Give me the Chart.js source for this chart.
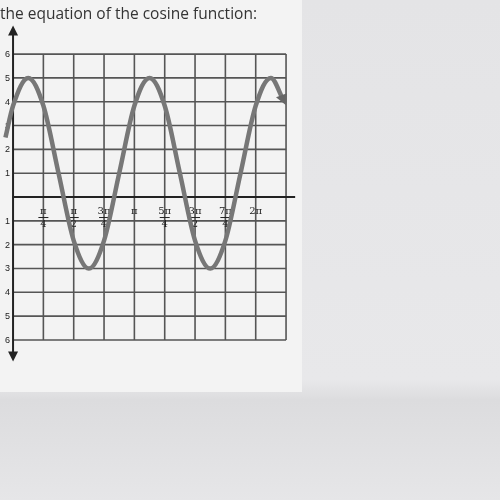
<!DOCTYPE html>
<html><head><script src="https://cdn.jsdelivr.net/npm/chart.js@4"></script>
<style>
body{margin:0;width:500px;height:500px;background:linear-gradient(#e4e4e6 0,#e8e8ea 380px,#dcdcde 400px,#e6e6e8 500px);overflow:hidden;position:relative;font-family:"Open Sans",sans-serif}
#paper{position:absolute;left:0;top:0;width:302px;height:392px;background:#f3f3f3}
#title{position:absolute;left:0;top:2px;font-size:15.5px;color:#333;white-space:nowrap}
#wrap{position:absolute;left:0;top:0;width:300px;height:390px}
</style></head><body>
<div id="paper"></div>
<div id="wrap"><canvas id="c"></canvas></div>
<div id="title">the equation of the cosine function:</div>
<script>
const xQuarterPi=[-0.25,0,0.5,1,1.5,2,2.5,3,3.5,4,4.5,5,5.5,6,6.5,7,7.5,8,8.5,8.9];
const yVals=[2.5,3.83,5,3.83,1,-1.83,-3,-1.83,1,3.83,5,3.83,1,-1.83,-3,-1.83,1,3.83,5,4.1];
const xLabels=[["π","4"],["π","2"],["3π","4"],["π",""],["5π","4"],["3π","2"],["7π","4"],["2π",""]];
const yTicks=[6,5,4,3,2,1,-1,-2,-3,-4,-5,-6];
const grid={id:'g',beforeDatasetsDraw(ch){
 const c=ch.ctx,x=ch.scales.x,y=ch.scales.y;c.save();
 c.strokeStyle='#555';c.lineWidth=1.6;
 for(let i=1;i<=9;i++){const p=x.getPixelForValue(i);c.beginPath();c.moveTo(p,y.getPixelForValue(6));c.lineTo(p,y.getPixelForValue(-6));c.stroke();}
 for(let j=-6;j<=6;j++){if(!j)continue;const p=y.getPixelForValue(j);c.beginPath();c.moveTo(x.getPixelForValue(0),p);c.lineTo(x.getPixelForValue(9),p);c.stroke();}
 c.strokeStyle='#222';c.lineWidth=2;
 const x0=x.getPixelForValue(0),y0=y.getPixelForValue(0);
 c.beginPath();c.moveTo(x0,y.getPixelForValue(7.0));c.lineTo(x0,y.getPixelForValue(-6.6));c.stroke();
 c.beginPath();c.moveTo(x0-0.5,y.getPixelForValue(0));c.lineTo(x.getPixelForValue(9.3),y0);c.stroke();
 c.fillStyle='#222';
 let t=y.getPixelForValue(7.2);c.beginPath();c.moveTo(x0,t);c.lineTo(x0-5,t+10);c.lineTo(x0+5,t+10);c.fill();
 t=y.getPixelForValue(-6.9);c.beginPath();c.moveTo(x0,t);c.lineTo(x0-5,t-10);c.lineTo(x0+5,t-10);c.fill();
 c.font='10px "DejaVu Serif"';c.textAlign='center';
 xLabels.forEach((l,i)=>{const p=x.getPixelForValue(i+1);c.fillText(l[0],p,y0+17);if(l[1]){c.fillRect(p-5,y0+20,10,1);c.fillText(l[1],p,y0+30);}});
 c.font='9px sans-serif';c.textAlign='right';
 yTicks.forEach(v=>c.fillText(String(Math.abs(v)),x0-3,y.getPixelForValue(v)+3));
 c.restore();},
 afterDatasetsDraw(ch){const c=ch.ctx,x=ch.scales.x,y=ch.scales.y,n=xQuarterPi.length-1;
  const px=x.getPixelForValue(xQuarterPi[n]),py=y.getPixelForValue(yVals[n]);
  c.save();c.fillStyle='#666';c.beginPath();c.moveTo(px+3,py+6);c.lineTo(px-7,py-2);c.lineTo(px+4,py-6);c.fill();c.restore();}};
new Chart(document.getElementById('c'),{type:'line',
 data:{datasets:[{data:xQuarterPi.map((v,i)=>({x:v,y:yVals[i]})),borderColor:'#777',borderWidth:4.5,pointRadius:0,tension:0.4,cubicInterpolationMode:'monotone'}]},
 options:{responsive:true,maintainAspectRatio:false,animation:false,layout:{padding:0},
  plugins:{legend:{display:false},tooltip:{enabled:false}},
  scales:{x:{type:'linear',min:-0.43,max:9.46,display:false},y:{min:-8.1,max:8.27,display:false}}},
 plugins:[grid]});
</script></body></html>
